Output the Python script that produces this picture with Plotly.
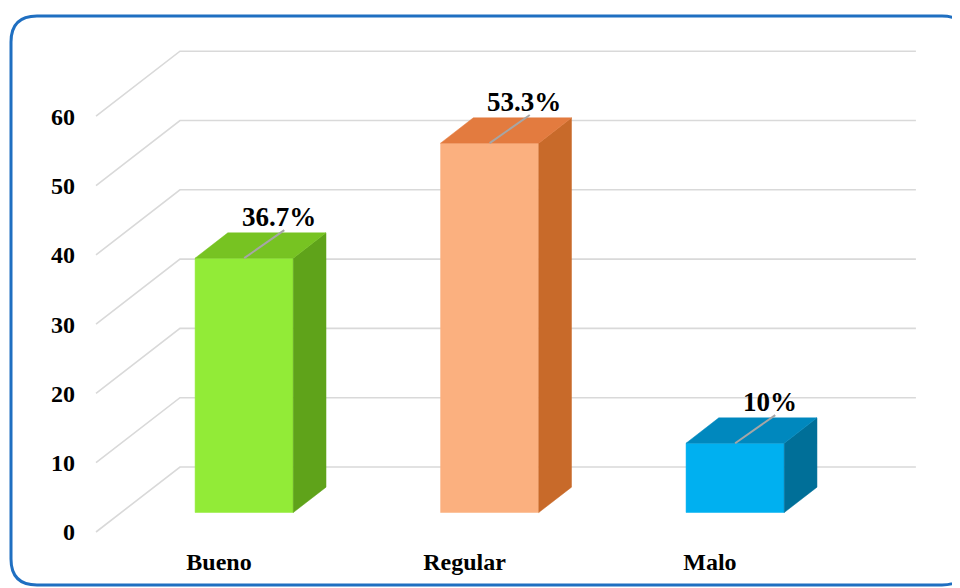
import plotly.graph_objects as go

# data
categories = ['Bueno', 'Regular', 'Malo']
values = [36.7, 53.3, 10]
labels = ['36.7%', '53.3%', '10%']
y_ticks = [0, 10, 20, 30, 40, 50, 60]

# colours per bar: front, top, side
front_cols = ['#92EB37', '#FBB07F', '#00B0F0']
top_cols = ['#77C322', '#E37B3F', '#0088BE']
side_cols = ['#5FA31A', '#C86A2A', '#006F98']

# pseudo 3d geometry (axis units)
DX, DY = 0.342, 9.38       # full depth offset of the floor / walls
D0, D1 = 0.30, 0.69        # bar depth, front and back
HW = 0.2                   # half width of a bar
GX0, GX1 = -0.501, 2.497   # gridline front left end, back right end (depth 0 units)

# page has an 8px body margin, so shift the design up/left by that
OFF = 8
W, H = 960, 588
PL, PR, PT, PB = 90 - OFF, 925 - OFF, 40 - OFF, 545 - OFF   # plot area in figure pixels


def proj(x, v, d):
    return x + d * DX, v + d * DY


fig = go.Figure()

# gridlines: diagonal floor part then back wall part
for t in y_ticks:
    p0 = proj(GX0, t, 0)
    p1 = proj(GX0, t, 1)
    p2 = proj(GX1, t, 1)
    fig.add_scatter(x=[p0[0], p1[0], p2[0]], y=[p0[1], p1[1], p2[1]], mode='lines',
                    line=dict(color='#D9D9D9', width=1.6), hoverinfo='skip', showlegend=False)


def face(pts, col):
    xs = [p[0] for p in pts] + [pts[0][0]]
    ys = [p[1] for p in pts] + [pts[0][1]]
    fig.add_scatter(x=xs, y=ys, mode='lines', fill='toself', fillcolor=col,
                    line=dict(color=col, width=0.5), hoverinfo='skip', showlegend=False)


for i, v in enumerate(values):
    xl, xr = i - HW, i + HW
    # front face
    face([proj(xl, 0, D0), proj(xr, 0, D0), proj(xr, v, D0), proj(xl, v, D0)], front_cols[i])
    # side face
    face([proj(xr, 0, D0), proj(xr, 0, D1), proj(xr, v, D1), proj(xr, v, D0)], side_cols[i])
    # top face
    face([proj(xl, v, D0), proj(xr, v, D0), proj(xr, v, D1), proj(xl, v, D1)], top_cols[i])
    # leader line from label to bar
    a = proj(i, v, D0)
    b = proj(i + 0.03, v + 0.4, D1)
    fig.add_scatter(x=[a[0], b[0]], y=[a[1], b[1]], mode='lines',
                    line=dict(color='#A6A6A6', width=2), hoverinfo='skip', showlegend=False)
    # data label
    fig.add_annotation(x=a[0] + 0.14, y=v + 6.0 + D0 * DY, text='<b>%s</b>' % labels[i],
                       showarrow=False,
                       font=dict(family='Liberation Serif', size=27, color='#000000'),
                       xanchor='center', yanchor='middle')


# rounded blue frame, drawn in paper coordinates (right edge runs off the page)
def px(xp):
    return (xp - OFF - PL) / (PR - PL)


def py(yp):
    return (PB - (yp - OFF)) / (PB - PT)


L, R, T, B, rr = 11, 968, 16, 585, 26
path = (f'M {px(L + rr)},{py(T)} L {px(R - rr)},{py(T)} '
        f'Q {px(R)},{py(T)} {px(R)},{py(T + rr)} '
        f'L {px(R)},{py(B - rr)} Q {px(R)},{py(B)} {px(R - rr)},{py(B)} '
        f'L {px(L + rr)},{py(B)} Q {px(L)},{py(B)} {px(L)},{py(B - rr)} '
        f'L {px(L)},{py(T + rr)} Q {px(L)},{py(T)} {px(L + rr)},{py(T)} Z')
fig.add_shape(type='path', path=path, xref='paper', yref='paper',
              line=dict(color='#1F6FC1', width=3))

fig.update_layout(
    width=W, height=H,
    margin=dict(l=PL, r=W - PR, t=PT, b=H - PB),
    plot_bgcolor='white', paper_bgcolor='white',
    font=dict(family='Liberation Serif', size=24, color='#000000'),
    showlegend=False,
    xaxis=dict(range=[-0.5255, 2.876], showgrid=False, zeroline=False, showline=False,
               tickmode='array', tickvals=[0, 1, 2], ticktext=['<b>%s</b>' % c for c in categories],
               ticks='', fixedrange=True),
    yaxis=dict(range=[-1.876, 71.0], showgrid=False, zeroline=False, showline=False,
               tickmode='array', tickvals=y_ticks, ticktext=['<b>%d</b>' % t for t in y_ticks],
               ticks='', ticklabelstandoff=14, fixedrange=True),
)

fig.write_html('out.html')
